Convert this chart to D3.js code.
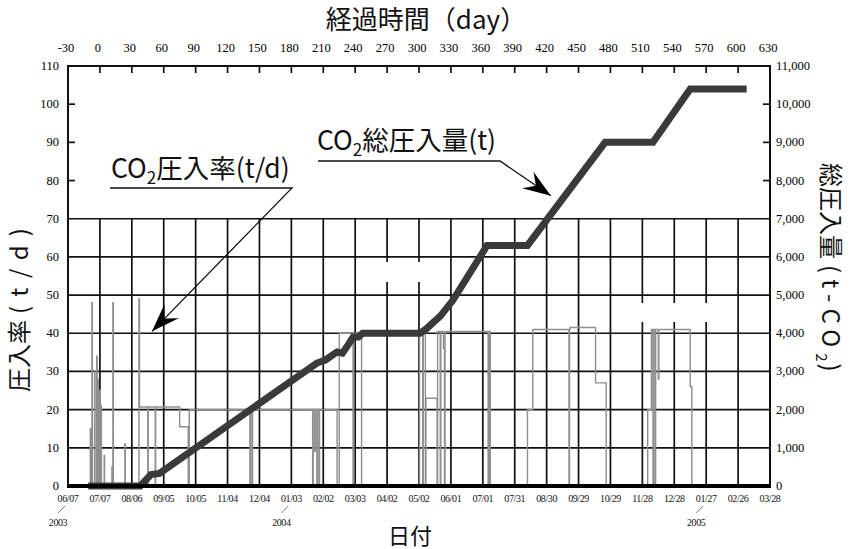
<!DOCTYPE html>
<html lang="ja">
<head>
<meta charset="utf-8">
<title>CO2圧入率と総圧入量</title>
<style>
    body { margin: 0; background: #fff; }
    .tick { font-family: "Liberation Serif", "DejaVu Serif", serif; font-size: 12.5px; fill: #000; }
    .date { font-family: "Liberation Serif", "DejaVu Serif", serif; font-size: 10px; letter-spacing: -0.4px; fill: #111; }
    .title { font-family: "Noto Sans CJK JP", "Noto Sans", sans-serif; fill: #111; }
</style>
</head>
<body>
<svg id="chart" width="850" height="549"></svg>
<script src="https://cdn.jsdelivr.net/npm/d3@7/dist/d3.min.js"></script>
<script>
    // axis labels
    var dayLabels = [-30, 0, 30, 60, 90, 120, 150, 180, 210, 240, 270, 300, 330, 360, 390, 420, 450, 480, 510, 540, 570, 600, 630];
    var dateLabels = ["06/07", "07/07", "08/06", "09/05", "10/05", "11/04", "12/04", "01/03", "02/02", "03/03", "04/02", "05/02",
        "06/01", "07/01", "07/31", "08/30", "09/29", "10/29", "11/28", "12/28", "01/27", "02/26", "03/28"];
    var yearLabels = ["2003", "2004", "2005"];
    var yearDays = [-30, 180, 570];
    var rateTicks = [0, 10, 20, 30, 40, 50, 60, 70, 80, 90, 100, 110];
    var totalTicks = [0, 1000, 2000, 3000, 4000, 5000, 6000, 7000, 8000, 9000, 10000, 11000];

    // CO2 total injected (t), elapsed day
    var totalDays = [-11, 38, 48, 56, 204, 212, 223, 228, 232, 238, 243, 247, 301, 307, 320, 332, 364, 402, 475, 520, 555, 608];
    var totalValues = [0, 0, 300, 330, 3220, 3300, 3510, 3480, 3640, 3900, 3900, 4000, 4000, 4120, 4450, 4870, 6300, 6300, 9000, 9000, 10400, 10400];

    // CO2 injection rate (t/d), step values starting at each day
    var rateDays = [-12, -9, -8.7, -7.5, -7.1, -5, -4.6, -3, -2.6, -2, -1.6, -0.6, 0.4, 1, 1.4, 4, 4.4,
        11.3, 11.7, 12.2, 12.6, 23.5, 23.9, 36.7, 37.2, 45, 45.4, 52, 52.4, 75, 83, 84,
        141, 141.5, 143, 143.5, 200, 200.5, 202, 202.5, 204, 204.5, 206, 206.5, 223, 225, 238, 238.5, 246,
        300.5, 303.5, 304, 306, 306.5, 317, 317.5, 320, 320.5, 323, 324, 324.5, 365, 366, 367,
        402, 407, 441, 441.5, 442, 464, 466, 476,
        515, 518.5, 520, 520.5, 522, 522.5, 525, 525.5, 555, 556.5, 610];
    var rateValues = [0, 15, 0, 48, 0, 30, 0, 34, 0, 28, 0, 25, 0, 21, 0, 8, 0,
        5, 0, 48, 0, 11, 0, 49, 20.7, 0, 20.7, 0, 20.7, 15.5, 0, 20,
        0, 20, 0, 20, 0, 20, 9, 20, 0, 20, 0, 20, 0, 40, 0, 40, 0,
        40.5, 0, 40.5, 0, 23, 0, 40.5, 0, 40.5, 36, 0, 40.5, 0, 40.5, 0,
        20, 41, 0, 41, 41.5, 41.5, 27, 0,
        20, 41, 0, 41, 0, 41, 28, 41, 26, 0, 0];

    var svg = d3.select("#chart");
    var pLeft = 68, pRight = 770, pTop = 66, pBottom = 486;

    var x = d3.scaleLinear().domain([-30, 630]).range([pLeft, pRight]);
    var yL = d3.scaleLinear().domain([0, 110]).range([pBottom, pTop]);
    var yR = d3.scaleLinear().domain([0, 11000]).range([pBottom, pTop]);

    svg.append("rect").attr("width", 850).attr("height", 549).attr("fill", "#fff");

    // grid (only up to 70 t/d)
    var grid = svg.append("g").attr("stroke", "#111").attr("stroke-width", 1.7);
    grid.selectAll("line.h")
        .data(rateTicks.filter(function(d) { return d > 0 && d <= 70; }))
        .enter().append("line").attr("class", "h")
        .attr("x1", pLeft).attr("x2", pRight)
        .attr("y1", function(d) { return yL(d); })
        .attr("y2", function(d) { return yL(d); });
    grid.selectAll("line.v")
        .data(dayLabels.slice(1, -1))
        .enter().append("line").attr("class", "v")
        .attr("x1", function(d) { return x(d); })
        .attr("x2", function(d) { return x(d); })
        .attr("y1", yL(0)).attr("y2", yL(70));

    // erased patches in the source figure
    svg.append("rect").attr("x", 383).attr("y", 262).attr("width", 48).attr("height", 20).attr("fill", "#fff");
    svg.append("rect").attr("x", 636).attr("y", 303).attr("width", 76).attr("height", 19).attr("fill", "#fff");

    // injection rate
    var rateLine = d3.line()
        .curve(d3.curveStepAfter)
        .x(function(d) { return x(d[0]); })
        .y(function(d) { return yL(d[1]); });
    svg.append("path")
        .datum(d3.zip(rateDays, rateValues))
        .attr("d", rateLine)
        .attr("fill", "none")
        .attr("stroke", "#8e8e8e")
        .attr("stroke-width", 1.4);

    // total injected
    var totalLine = d3.line()
        .x(function(d) { return x(d[0]); })
        .y(function(d) { return yR(d[1]); });
    svg.append("path")
        .datum(d3.zip(totalDays, totalValues))
        .attr("d", totalLine)
        .attr("fill", "none")
        .attr("stroke", "#3a3a3a")
        .attr("stroke-width", 7)
        .attr("stroke-linejoin", "miter");

    // frame
    svg.append("path")
        .attr("d", "M" + pLeft + "," + pBottom + "V" + pTop + "H" + pRight + "V" + pBottom)
        .attr("fill", "none").attr("stroke", "#111").attr("stroke-width", 2);
    svg.append("line")
        .attr("x1", pLeft - 1).attr("x2", pRight + 1)
        .attr("y1", pBottom).attr("y2", pBottom)
        .attr("stroke", "#000").attr("stroke-width", 4);

    // inner ticks
    var ticks = svg.append("g").attr("stroke", "#111").attr("stroke-width", 1.7);
    ticks.selectAll("line.t")
        .data(dayLabels.slice(1, -1))
        .enter().append("line").attr("class", "t")
        .attr("x1", function(d) { return x(d); })
        .attr("x2", function(d) { return x(d); })
        .attr("y1", pTop).attr("y2", pTop + 7);
    ticks.selectAll("line.l")
        .data([80, 90, 100])
        .enter().append("line").attr("class", "l")
        .attr("x1", pLeft).attr("x2", pLeft + 7)
        .attr("y1", function(d) { return yL(d); })
        .attr("y2", function(d) { return yL(d); });
    ticks.selectAll("line.r")
        .data([8000, 9000, 10000])
        .enter().append("line").attr("class", "r")
        .attr("x1", pRight).attr("x2", pRight - 7)
        .attr("y1", function(d) { return yR(d); })
        .attr("y2", function(d) { return yR(d); });

    // tick labels
    svg.selectAll("text.top")
        .data(dayLabels)
        .enter().append("text")
        .attr("class", "tick top")
        .attr("text-anchor", "middle")
        .attr("x", function(d) { return x(d) - 2; })
        .attr("y", 52)
        .text(function(d) { return d; });
    svg.selectAll("text.left")
        .data(rateTicks)
        .enter().append("text")
        .attr("class", "tick left")
        .attr("text-anchor", "end")
        .attr("x", 59)
        .attr("y", function(d) { return yL(d) + 4; })
        .text(function(d) { return d; });
    svg.selectAll("text.right")
        .data(totalTicks)
        .enter().append("text")
        .attr("class", "tick right")
        .attr("x", 776)
        .attr("y", function(d) { return yR(d) + 4; })
        .text(d3.format(","));
    svg.selectAll("text.date")
        .data(dateLabels)
        .enter().append("text")
        .attr("class", "date")
        .attr("text-anchor", "middle")
        .attr("x", function(d, i) { return x(dayLabels[i]); })
        .attr("y", 502)
        .text(function(d) { return d; });
    yearLabels.forEach(function(t, i) {
        var px = x(yearDays[i]);
        svg.append("line")
            .attr("x1", px - 10).attr("y1", 513).attr("x2", px - 3).attr("y2", 506)
            .attr("stroke", "#777").attr("stroke-width", 1);
        svg.append("text")
            .attr("class", "date")
            .attr("text-anchor", "middle")
            .attr("x", px - 10).attr("y", 526)
            .text(t);
    });

    // axis titles
    svg.append("text").attr("class", "title")
        .attr("text-anchor", "middle").attr("x", 426).attr("y", 29)
        .style("font-size", "26px")
        .text("経過時間（day）");
    svg.append("text").attr("class", "title")
        .attr("text-anchor", "middle").attr("x", 410).attr("y", 544)
        .style("font-size", "22px")
        .text("日付");
    var lt = svg.append("text").attr("class", "title")
        .attr("transform", "translate(20,392) rotate(-90)")
        .attr("y", 8)
        .style("font-size", "24px");
    lt.append("tspan").text("圧入率");
    lt.append("tspan").attr("dx", 6).attr("textLength", 86).attr("lengthAdjust", "spacing").text("(t/d)");
    var rt = svg.append("text").attr("class", "title")
        .attr("transform", "translate(830,163) rotate(90)")
        .attr("y", 8)
        .style("font-size", "24px");
    rt.append("tspan").text("総圧入量");
    rt.append("tspan").attr("dx", 6).attr("textLength", 82).attr("lengthAdjust", "spacing").text("(t-CO");
    rt.append("tspan").attr("dy", 6).style("font-size", "15px").text("2");
    rt.append("tspan").attr("dy", -6).attr("dx", 2).text(")");

    // annotations
    function arrowHead(from, tip) {
        var a = Math.atan2(tip[1] - from[1], tip[0] - from[0]);
        var c = Math.cos(a), s = Math.sin(a);
        var pts = [[0, 0], [-28, -10], [-18, 0], [-28, 10]];
        return "M" + pts.map(function(p) {
            return [tip[0] + p[0] * c - p[1] * s, tip[1] + p[0] * s + p[1] * c].join(",");
        }).join("L") + "Z";
    }
    function label(tx, ty, main, sub, rest, lineY, lineX1, lineX2, tip) {
        var t = svg.append("text").attr("class", "title")
            .attr("x", tx).attr("y", ty).style("font-size", "26.5px");
        t.append("tspan").text(main);
        t.append("tspan").attr("dy", 6).style("font-size", "17px").text(sub);
        t.append("tspan").attr("dy", -6).text(rest);
        svg.append("path")
            .attr("d", "M" + lineX1 + "," + lineY + "H" + lineX2 + "L" + tip[0] + "," + tip[1])
            .attr("fill", "none").attr("stroke", "#111").attr("stroke-width", 1.3);
        svg.append("path")
            .attr("d", arrowHead([lineX2, lineY], tip))
            .attr("fill", "#000");
    }
    label(111, 178, "CO", "2", "圧入率(t/d)", 188, 110, 292, [x(49), yL(40.5)]);
    label(317, 150, "CO", "2", "総圧入量(t)", 161, 318, 500, [x(424), yL(76)]);
</script>
</body>
</html>
